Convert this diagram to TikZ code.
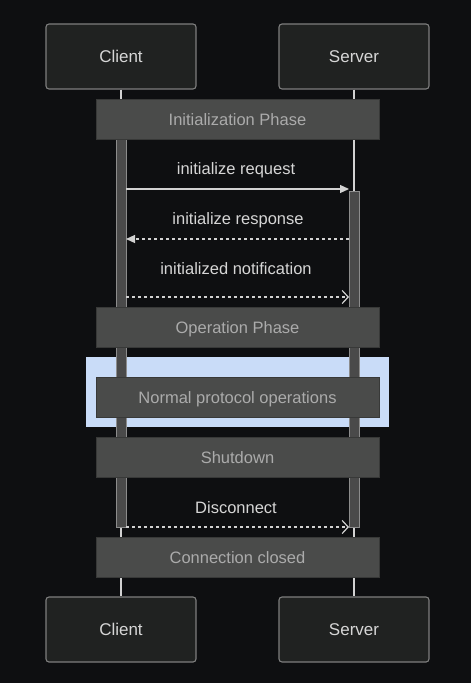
\documentclass[tikz,border=0pt]{standalone}
\usepackage{fontspec}
\setmainfont{Liberation Sans}
\usetikzlibrary{arrows.meta}
\definecolor{bg}{HTML}{0E0F11}
\definecolor{boxfill}{HTML}{202221}
\definecolor{boxline}{HTML}{7E7E7E}
\definecolor{notefill}{HTML}{4A4B4A}
\definecolor{noteline}{HTML}{383938}
\definecolor{notetext}{HTML}{ABABAB}
\definecolor{boxtext}{HTML}{D6D6D6}
\definecolor{msgcol}{HTML}{D2D2D2}
\definecolor{hilite}{HTML}{C9DCF8}
\definecolor{barfill}{HTML}{4A4A4A}
\definecolor{barline}{HTML}{8C8C8C}
\begin{document}
\begin{tikzpicture}[x=1pt,y=-1pt,
  actor/.style={draw=boxline,line width=1.1pt,fill=boxfill,rounded corners=3pt,minimum width=150pt,minimum height=65pt,inner sep=0pt,text=boxtext,font=\fontsize{17}{20}\selectfont,text depth=0pt,text height=12pt},
  notebox/.style={draw=noteline,line width=1pt,fill=notefill,minimum width=283pt,minimum height=40pt,inner sep=0pt,text=notetext,font=\fontsize{16.5}{20}\selectfont,text depth=0pt,text height=12pt},
  actbar/.style={draw=barline,line width=0.9pt,fill=barfill},
  lifeline/.style={draw=msgcol,line width=1.3pt},
  msg/.style={draw=msgcol,line width=1.2pt},
  msglabel/.style={text=boxtext,font=\fontsize{16.5}{20}\selectfont,inner sep=0pt,text depth=0pt,text height=12pt},
  solidtip/.style={-{Triangle[length=9pt,width=8pt]}},
  opentip/.style={-{Straight Barb[length=6pt,width=13pt,line width=1.2pt]}},
  dsh/.style={dash pattern=on 3pt off 3pt}
]
\fill[bg] (0,0) rectangle (471,683);
\useasboundingbox (0,0) rectangle (471,683);
% highlight
\fill[hilite] (86,357) rectangle (389,427);
% actors
\node[actor] (c1) at (121,56.5) {Client};
\node[actor] (s1) at (354,56.5) {Server};
\node[actor] (c2) at (121,629.5) {Client};
\node[actor] (s2) at (354,629.5) {Server};
% lifelines
\draw[lifeline] (c1.south) -- (c2.north);
\draw[lifeline] (s1.south) -- (s2.north);
% activation bars
\draw[actbar] (116,139) rectangle (126,527);
\draw[actbar] (349,191) rectangle (359,527);
% notes
\node[notebox] (n1) at (237.5,119) {Initialization Phase};
\node[notebox] (n2) at (237.5,327) {Operation Phase};
\node[notebox] (n3) at (237.5,397) {Normal protocol operations};
\node[notebox] (n4) at (237.5,457) {Shutdown};
\node[notebox] (n5) at (237.5,557) {Connection closed};
% messages
\coordinate (a1) at (126,189); \coordinate (b1) at (349,189);
\coordinate (a2) at (126,239); \coordinate (b2) at (349,239);
\coordinate (a3) at (126,297); \coordinate (b3) at (349,297);
\coordinate (a4) at (126,527); \coordinate (b4) at (349,527);
\draw[msg,solidtip] (a1) -- (b1);
\draw[msg,solidtip,dsh] (b2) -- (a2);
\draw[msg,opentip,dsh] (a3) -- (b3);
\draw[msg,opentip,dsh] (a4) -- (b4);
\node[msglabel] (l1) at (236,168) {initialize request};
\node[msglabel] (l2) at (238,218) {initialize response};
\node[msglabel] (l3) at (236,268) {initialized notification};
\node[msglabel] (l4) at (236,507) {Disconnect};
\end{tikzpicture}
\end{document}
